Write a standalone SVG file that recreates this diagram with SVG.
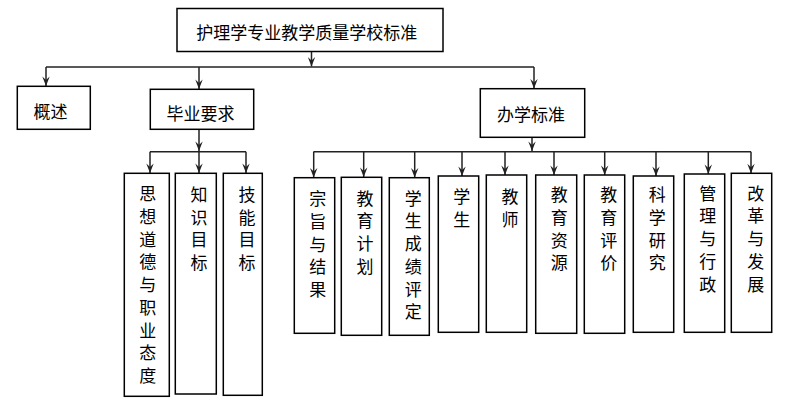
<svg xmlns="http://www.w3.org/2000/svg" width="789" height="408" viewBox="0 0 789 408">
<style>
.box{fill:#fff;stroke:#000;stroke-width:1.5}
.t{font-family:"Noto Sans CJK SC","Noto Sans CJK JP",sans-serif;font-size:17px;fill:#000;text-anchor:middle;dominant-baseline:central}
.c{fill:none;stroke:#222;stroke-width:1.5}
</style>
<defs>
<marker id="ah" markerUnits="userSpaceOnUse" markerWidth="10" markerHeight="8" refX="10" refY="4" orient="auto" viewBox="0 0 10 8">
<path d="M0.5,0.3 L4,4 L0.5,7.7 L10,4 Z" fill="#222"/>
</marker>
</defs>
<rect width="789" height="408" fill="#fff"/>
<g id="connectors">
<path class="c" d="M311.5,51 V66.5" marker-end="url(#ah)"/>
<path class="c" d="M46,67 H534"/>
<path class="c" d="M46,67 V86" marker-end="url(#ah)"/>
<path class="c" d="M199,67 V89" marker-end="url(#ah)"/>
<path class="c" d="M534,67 V88.5" marker-end="url(#ah)"/>
<path class="c" d="M199,129 V151" marker-end="url(#ah)"/>
<path class="c" d="M150,151.7 H246"/>
<path class="c" d="M150,151.7 V173" marker-end="url(#ah)"/>
<path class="c" d="M199,151.7 V173" marker-end="url(#ah)"/>
<path class="c" d="M246,151.7 V173" marker-end="url(#ah)"/>
<path class="c" d="M532,137 V151" marker-end="url(#ah)"/>
<path class="c" d="M313.5,151.7 H751"/>
<path class="c" d="M313.7,151.7 V177.5" marker-end="url(#ah)"/>
<path class="c" d="M363.7,151.7 V177" marker-end="url(#ah)"/>
<path class="c" d="M414.7,151.7 V177.5" marker-end="url(#ah)"/>
<path class="c" d="M462,151.7 V176" marker-end="url(#ah)"/>
<path class="c" d="M505,151.7 V175" marker-end="url(#ah)"/>
<path class="c" d="M554,151.7 V175" marker-end="url(#ah)"/>
<path class="c" d="M604.7,151.7 V175" marker-end="url(#ah)"/>
<path class="c" d="M656,151.7 V176" marker-end="url(#ah)"/>
<path class="c" d="M708.3,151.7 V174" marker-end="url(#ah)"/>
<path class="c" d="M751,151.7 V173.3" marker-end="url(#ah)"/>
</g>
<g id="root"><rect class="box" x="177" y="8.5" width="266" height="43"/><text class="t" x="306.7" y="31">护理学专业教学质量学校标准</text></g>
<g id="gaishu"><rect class="box" x="17.3" y="86.3" width="73" height="43"/><text class="t" x="50.5" y="110">概述</text></g>
<g id="biye"><rect class="box" x="150.3" y="89.3" width="103.4" height="40"/><text class="t" x="200.5" y="112">毕业要求</text></g>
<g id="banxue"><rect class="box" x="480.3" y="88.7" width="104.4" height="48.6"/><text class="t" x="531" y="113">办学标准</text></g>
<g id="sixiang"><rect class="box" x="124.3" y="173.3" width="45" height="223"/><text class="t"><tspan x="147.7" y="192.3">思</tspan><tspan x="147.7" dy="22.7">想</tspan><tspan x="147.7" dy="22.7">道</tspan><tspan x="147.7" dy="22.7">德</tspan><tspan x="147.7" dy="22.7">与</tspan><tspan x="147.7" dy="22.7">职</tspan><tspan x="147.7" dy="22.7">业</tspan><tspan x="147.7" dy="22.7">态</tspan><tspan x="147.7" dy="22.7">度</tspan></text></g>
<g id="zhishi"><rect class="box" x="175.3" y="173.3" width="41" height="220.7"/><text class="t"><tspan x="199" y="193">知</tspan><tspan x="199" dy="22.7">识</tspan><tspan x="199" dy="22.7">目</tspan><tspan x="199" dy="22.7">标</tspan></text></g>
<g id="jineng"><rect class="box" x="223.3" y="173.3" width="39" height="222"/><text class="t"><tspan x="247" y="193">技</tspan><tspan x="247" dy="22.7">能</tspan><tspan x="247" dy="22.7">目</tspan><tspan x="247" dy="22.7">标</tspan></text></g>
<g id="zongzhi"><rect class="box" x="294.3" y="177.7" width="40.4" height="155.6"/><text class="t"><tspan x="317.7" y="197.3">宗</tspan><tspan x="317.7" dy="22.7">旨</tspan><tspan x="317.7" dy="22.7">与</tspan><tspan x="317.7" dy="22.7">结</tspan><tspan x="317.7" dy="22.7">果</tspan></text></g>
<g id="jiaoyujihua"><rect class="box" x="341.3" y="177.3" width="40.4" height="158"/><text class="t"><tspan x="365" y="196.7">教</tspan><tspan x="365" dy="22.7">育</tspan><tspan x="365" dy="22.7">计</tspan><tspan x="365" dy="22.7">划</tspan></text></g>
<g id="chengji"><rect class="box" x="389.3" y="177.7" width="40" height="157.6"/><text class="t"><tspan x="413.3" y="196.7">学</tspan><tspan x="413.3" dy="22.7">生</tspan><tspan x="413.3" dy="22.7">成</tspan><tspan x="413.3" dy="22.7">绩</tspan><tspan x="413.3" dy="22.7">评</tspan><tspan x="413.3" dy="22.7">定</tspan></text></g>
<g id="xuesheng"><rect class="box" x="438.3" y="176" width="40.4" height="156.3"/><text class="t"><tspan x="461.7" y="195">学</tspan><tspan x="461.7" dy="22.7">生</tspan></text></g>
<g id="jiaoshi"><rect class="box" x="486.3" y="175" width="40.4" height="157.3"/><text class="t"><tspan x="510" y="195">教</tspan><tspan x="510" dy="22.7">师</tspan></text></g>
<g id="ziyuan"><rect class="box" x="535.7" y="175" width="41" height="158.3"/><text class="t"><tspan x="559.3" y="193.3">教</tspan><tspan x="559.3" dy="22.7">育</tspan><tspan x="559.3" dy="22.7">资</tspan><tspan x="559.3" dy="22.7">源</tspan></text></g>
<g id="pingjia"><rect class="box" x="584.3" y="175" width="40.4" height="158.3"/><text class="t"><tspan x="608.7" y="193.3">教</tspan><tspan x="608.7" dy="22.7">育</tspan><tspan x="608.7" dy="22.7">评</tspan><tspan x="608.7" dy="22.7">价</tspan></text></g>
<g id="keyan"><rect class="box" x="633.3" y="176" width="40.4" height="156.3"/><text class="t"><tspan x="657.3" y="193.3">科</tspan><tspan x="657.3" dy="22.7">学</tspan><tspan x="657.3" dy="22.7">研</tspan><tspan x="657.3" dy="22.7">究</tspan></text></g>
<g id="guanli"><rect class="box" x="684.3" y="174" width="40.4" height="158.3"/><text class="t"><tspan x="707.7" y="191.7">管</tspan><tspan x="707.7" dy="22.7">理</tspan><tspan x="707.7" dy="22.7">与</tspan><tspan x="707.7" dy="22.7">行</tspan><tspan x="707.7" dy="22.7">政</tspan></text></g>
<g id="gaige"><rect class="box" x="731.3" y="173.3" width="40.4" height="159"/><text class="t"><tspan x="755.7" y="191.7">改</tspan><tspan x="755.7" dy="22.7">革</tspan><tspan x="755.7" dy="22.7">与</tspan><tspan x="755.7" dy="22.7">发</tspan><tspan x="755.7" dy="22.7">展</tspan></text></g>
</svg>
